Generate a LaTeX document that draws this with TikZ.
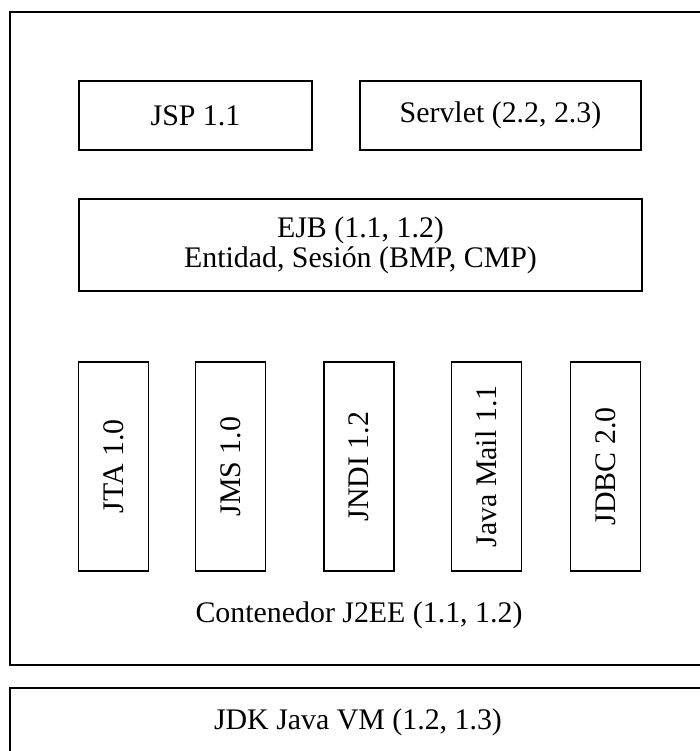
\documentclass[tikz,border=0pt]{standalone}
\usepackage{fontspec}
\setmainfont{Liberation Serif}
\usetikzlibrary{positioning}

\begin{document}
\begin{tikzpicture}[
    every node/.style={font=\fontsize{17}{17}\selectfont},
    box/.style={draw, line width=0.9pt, minimum height=1.38cm, inner sep=2pt},
    api/.style={draw, line width=0.9pt, rotate=90, minimum width=4.18cm, minimum height=1.4cm, inner sep=2pt}
]
    \useasboundingbox (0, 0) rectangle (13.98, 15.02);

    % containers (run off the right and bottom edge)
    \draw[line width=0.9pt] (0.2, 14.78) rectangle (14.4, 1.72);
    \draw[line width=0.9pt] (0.2, 1.26) rectangle (14.4, -0.4);

    \node[box, minimum width=4.66cm] (jsp) at (3.91, 12.71) {JSP 1.1};
    \node[box, minimum width=5.62cm] (servlet) at (10.01, 12.71) {Servlet (2.2, 2.3)};
    \node[box, minimum width=11.26cm, minimum height=1.84cm, align=center] (ejb) at (7.21, 10.12)
        {EJB (1.1, 1.2)\\Entidad, Sesión (BMP, CMP)};

    \foreach \x/\name/\txt in {2.27/jta/JTA 1.0, 4.61/jms/JMS 1.0, 7.18/jndi/JNDI 1.2,
                               9.73/mail/Java Mail 1.1, 12.11/jdbc/JDBC 2.0} {
        \node[api] (\name) at (\x, 5.69) {\txt};
    }

    \node (j2ee) at (7.18, 2.72) {Contenedor J2EE (1.1, 1.2)};
    \node (jdk) at (7.16, 0.58) {JDK Java VM (1.2, 1.3)};
\end{tikzpicture}
\end{document}
